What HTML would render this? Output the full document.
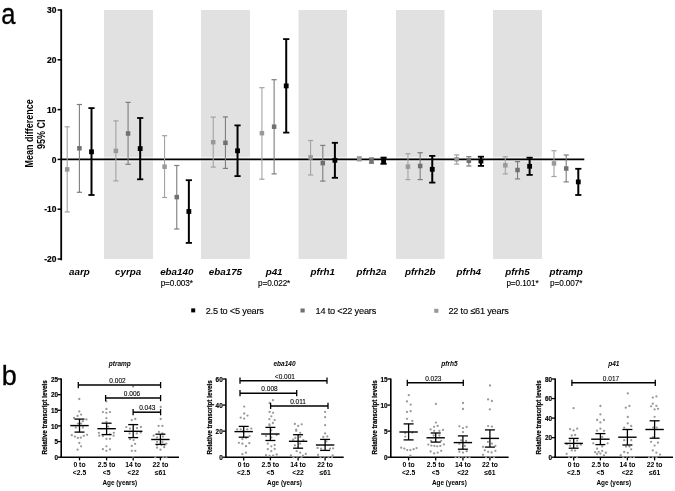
<!DOCTYPE html>
<html><head><meta charset="utf-8"><style>
html,body{margin:0;padding:0;background:#fff;width:675px;height:491px;overflow:hidden}
svg{display:block;will-change:transform}
</style></head><body>
<svg width="675" height="491" viewBox="0 0 675 491">
<rect width="675" height="491" fill="#fff"/>
<rect x="104" y="10" width="49" height="249" fill="#e1e1e1"/>
<rect x="104" y="156.9" width="49" height="0.9" fill="#f6f6f6"/>
<rect x="104" y="160.4" width="49" height="1" fill="#f8f8f8"/>
<rect x="201" y="10" width="49" height="249" fill="#e1e1e1"/>
<rect x="201" y="156.9" width="49" height="0.9" fill="#f6f6f6"/>
<rect x="201" y="160.4" width="49" height="1" fill="#f8f8f8"/>
<rect x="298.5" y="10" width="48.5" height="249" fill="#e1e1e1"/>
<rect x="298.5" y="156.9" width="48.5" height="0.9" fill="#f6f6f6"/>
<rect x="298.5" y="160.4" width="48.5" height="1" fill="#f8f8f8"/>
<rect x="396" y="10" width="48.5" height="249" fill="#e1e1e1"/>
<rect x="396" y="156.9" width="48.5" height="0.9" fill="#f6f6f6"/>
<rect x="396" y="160.4" width="48.5" height="1" fill="#f8f8f8"/>
<rect x="493" y="10" width="49" height="249" fill="#e1e1e1"/>
<rect x="493" y="156.9" width="49" height="0.9" fill="#f6f6f6"/>
<rect x="493" y="160.4" width="49" height="1" fill="#f8f8f8"/>
<line x1="61.2" y1="9.3" x2="61.2" y2="260.3" stroke="#000" stroke-width="1.8"/>
<line x1="57.6" y1="10.00" x2="61.2" y2="10.00" stroke="#000" stroke-width="1.5"/>
<text transform="translate(56.4,13.20) scale(0.88,1)" font-family="Liberation Sans, sans-serif" font-weight="bold" font-size="9.6" text-anchor="end" stroke="#000" stroke-width="0.2">30</text>
<line x1="57.6" y1="59.80" x2="61.2" y2="59.80" stroke="#000" stroke-width="1.5"/>
<text transform="translate(56.4,63.00) scale(0.88,1)" font-family="Liberation Sans, sans-serif" font-weight="bold" font-size="9.6" text-anchor="end" stroke="#000" stroke-width="0.2">20</text>
<line x1="57.6" y1="109.60" x2="61.2" y2="109.60" stroke="#000" stroke-width="1.5"/>
<text transform="translate(56.4,112.80) scale(0.88,1)" font-family="Liberation Sans, sans-serif" font-weight="bold" font-size="9.6" text-anchor="end" stroke="#000" stroke-width="0.2">10</text>
<line x1="57.6" y1="159.40" x2="61.2" y2="159.40" stroke="#000" stroke-width="1.5"/>
<text transform="translate(56.4,162.60) scale(0.88,1)" font-family="Liberation Sans, sans-serif" font-weight="bold" font-size="9.6" text-anchor="end" stroke="#000" stroke-width="0.2">0</text>
<line x1="57.6" y1="209.20" x2="61.2" y2="209.20" stroke="#000" stroke-width="1.5"/>
<text transform="translate(56.4,212.40) scale(0.88,1)" font-family="Liberation Sans, sans-serif" font-weight="bold" font-size="9.6" text-anchor="end" stroke="#000" stroke-width="0.2">-10</text>
<line x1="57.6" y1="259.00" x2="61.2" y2="259.00" stroke="#000" stroke-width="1.5"/>
<text transform="translate(56.4,262.20) scale(0.88,1)" font-family="Liberation Sans, sans-serif" font-weight="bold" font-size="9.6" text-anchor="end" stroke="#000" stroke-width="0.2">-20</text>
<line x1="61" y1="159.3" x2="584.3" y2="159.3" stroke="#000" stroke-width="1.8"/>
<text transform="translate(33.4,133.4) rotate(-90) scale(0.855,1)" font-family="Liberation Sans, sans-serif" font-weight="bold" font-size="10.5" text-anchor="middle">Mean difference</text>
<text transform="translate(44.6,134.2) rotate(-90) scale(0.9,1)" font-family="Liberation Sans, sans-serif" font-weight="bold" font-size="10" text-anchor="middle">95% CI</text>
<line x1="67.20" y1="126.8" x2="67.20" y2="211.9" stroke="#a3a3a3" stroke-width="1.1"/>
<line x1="64.60" y1="126.8" x2="69.80" y2="126.8" stroke="#a3a3a3" stroke-width="1.2"/>
<line x1="64.60" y1="211.9" x2="69.80" y2="211.9" stroke="#a3a3a3" stroke-width="1.2"/>
<rect x="64.95" y="167.15" width="4.5" height="4.5" fill="#999999"/>
<line x1="79.40" y1="104.5" x2="79.40" y2="192.3" stroke="#7d7d7d" stroke-width="1.1"/>
<line x1="76.80" y1="104.5" x2="82.00" y2="104.5" stroke="#7d7d7d" stroke-width="1.2"/>
<line x1="76.80" y1="192.3" x2="82.00" y2="192.3" stroke="#7d7d7d" stroke-width="1.2"/>
<rect x="77.15" y="146.05" width="4.5" height="4.5" fill="#707070"/>
<line x1="91.50" y1="108.1" x2="91.50" y2="195" stroke="#000000" stroke-width="2.0"/>
<line x1="88.40" y1="108.1" x2="94.60" y2="108.1" stroke="#000000" stroke-width="1.8"/>
<line x1="88.40" y1="195" x2="94.60" y2="195" stroke="#000000" stroke-width="1.8"/>
<rect x="89.10" y="149.40" width="4.8" height="4.8" fill="#000000"/>
<text x="79.40" y="275" font-family="Liberation Sans, sans-serif" font-weight="bold" font-style="italic" font-size="9.8" text-anchor="middle">aarp</text>
<line x1="115.88" y1="120.9" x2="115.88" y2="180.9" stroke="#a3a3a3" stroke-width="1.1"/>
<line x1="113.28" y1="120.9" x2="118.48" y2="120.9" stroke="#a3a3a3" stroke-width="1.2"/>
<line x1="113.28" y1="180.9" x2="118.48" y2="180.9" stroke="#a3a3a3" stroke-width="1.2"/>
<rect x="113.63" y="148.65" width="4.5" height="4.5" fill="#999999"/>
<line x1="128.08" y1="102.4" x2="128.08" y2="164.3" stroke="#7d7d7d" stroke-width="1.1"/>
<line x1="125.48" y1="102.4" x2="130.68" y2="102.4" stroke="#7d7d7d" stroke-width="1.2"/>
<line x1="125.48" y1="164.3" x2="130.68" y2="164.3" stroke="#7d7d7d" stroke-width="1.2"/>
<rect x="125.83" y="131.25" width="4.5" height="4.5" fill="#707070"/>
<line x1="140.18" y1="118" x2="140.18" y2="179.3" stroke="#000000" stroke-width="2.0"/>
<line x1="137.08" y1="118" x2="143.28" y2="118" stroke="#000000" stroke-width="1.8"/>
<line x1="137.08" y1="179.3" x2="143.28" y2="179.3" stroke="#000000" stroke-width="1.8"/>
<rect x="137.78" y="146.20" width="4.8" height="4.8" fill="#000000"/>
<text x="128.08" y="275" font-family="Liberation Sans, sans-serif" font-weight="bold" font-style="italic" font-size="9.8" text-anchor="middle">cyrpa</text>
<line x1="164.56" y1="135.7" x2="164.56" y2="197.5" stroke="#a3a3a3" stroke-width="1.1"/>
<line x1="161.96" y1="135.7" x2="167.16" y2="135.7" stroke="#a3a3a3" stroke-width="1.2"/>
<line x1="161.96" y1="197.5" x2="167.16" y2="197.5" stroke="#a3a3a3" stroke-width="1.2"/>
<rect x="162.31" y="164.45" width="4.5" height="4.5" fill="#999999"/>
<line x1="176.76" y1="165.5" x2="176.76" y2="229" stroke="#7d7d7d" stroke-width="1.1"/>
<line x1="174.16" y1="165.5" x2="179.36" y2="165.5" stroke="#7d7d7d" stroke-width="1.2"/>
<line x1="174.16" y1="229" x2="179.36" y2="229" stroke="#7d7d7d" stroke-width="1.2"/>
<rect x="174.51" y="194.85" width="4.5" height="4.5" fill="#707070"/>
<line x1="188.86" y1="180.2" x2="188.86" y2="242.9" stroke="#000000" stroke-width="2.0"/>
<line x1="185.76" y1="180.2" x2="191.96" y2="180.2" stroke="#000000" stroke-width="1.8"/>
<line x1="185.76" y1="242.9" x2="191.96" y2="242.9" stroke="#000000" stroke-width="1.8"/>
<rect x="186.46" y="209.10" width="4.8" height="4.8" fill="#000000"/>
<text x="176.76" y="275" font-family="Liberation Sans, sans-serif" font-weight="bold" font-style="italic" font-size="9.8" text-anchor="middle">eba140</text>
<text x="176.76" y="286.1" font-family="Liberation Sans, sans-serif" font-size="8.2" letter-spacing="-0.1" text-anchor="middle" fill="#000" stroke="#000" stroke-width="0.12">p=0.003*</text>
<line x1="213.24" y1="117.1" x2="213.24" y2="167.1" stroke="#a3a3a3" stroke-width="1.1"/>
<line x1="210.64" y1="117.1" x2="215.84" y2="117.1" stroke="#a3a3a3" stroke-width="1.2"/>
<line x1="210.64" y1="167.1" x2="215.84" y2="167.1" stroke="#a3a3a3" stroke-width="1.2"/>
<rect x="210.99" y="139.95" width="4.5" height="4.5" fill="#999999"/>
<line x1="225.44" y1="116.9" x2="225.44" y2="168.4" stroke="#7d7d7d" stroke-width="1.1"/>
<line x1="222.84" y1="116.9" x2="228.04" y2="116.9" stroke="#7d7d7d" stroke-width="1.2"/>
<line x1="222.84" y1="168.4" x2="228.04" y2="168.4" stroke="#7d7d7d" stroke-width="1.2"/>
<rect x="223.19" y="140.55" width="4.5" height="4.5" fill="#707070"/>
<line x1="237.54" y1="125.4" x2="237.54" y2="176.1" stroke="#000000" stroke-width="2.0"/>
<line x1="234.44" y1="125.4" x2="240.64" y2="125.4" stroke="#000000" stroke-width="1.8"/>
<line x1="234.44" y1="176.1" x2="240.64" y2="176.1" stroke="#000000" stroke-width="1.8"/>
<rect x="235.14" y="148.40" width="4.8" height="4.8" fill="#000000"/>
<text x="225.44" y="275" font-family="Liberation Sans, sans-serif" font-weight="bold" font-style="italic" font-size="9.8" text-anchor="middle">eba175</text>
<line x1="261.92" y1="87.7" x2="261.92" y2="179.2" stroke="#a3a3a3" stroke-width="1.1"/>
<line x1="259.32" y1="87.7" x2="264.52" y2="87.7" stroke="#a3a3a3" stroke-width="1.2"/>
<line x1="259.32" y1="179.2" x2="264.52" y2="179.2" stroke="#a3a3a3" stroke-width="1.2"/>
<rect x="259.67" y="130.95" width="4.5" height="4.5" fill="#999999"/>
<line x1="274.12" y1="79.7" x2="274.12" y2="173.9" stroke="#7d7d7d" stroke-width="1.1"/>
<line x1="271.52" y1="79.7" x2="276.72" y2="79.7" stroke="#7d7d7d" stroke-width="1.2"/>
<line x1="271.52" y1="173.9" x2="276.72" y2="173.9" stroke="#7d7d7d" stroke-width="1.2"/>
<rect x="271.87" y="124.45" width="4.5" height="4.5" fill="#707070"/>
<line x1="286.22" y1="39.1" x2="286.22" y2="132.6" stroke="#000000" stroke-width="2.0"/>
<line x1="283.12" y1="39.1" x2="289.32" y2="39.1" stroke="#000000" stroke-width="1.8"/>
<line x1="283.12" y1="132.6" x2="289.32" y2="132.6" stroke="#000000" stroke-width="1.8"/>
<rect x="283.82" y="83.50" width="4.8" height="4.8" fill="#000000"/>
<text x="274.12" y="275" font-family="Liberation Sans, sans-serif" font-weight="bold" font-style="italic" font-size="9.8" text-anchor="middle">p41</text>
<text x="274.12" y="286.1" font-family="Liberation Sans, sans-serif" font-size="8.2" letter-spacing="-0.1" text-anchor="middle" fill="#000" stroke="#000" stroke-width="0.12">p=0.022*</text>
<line x1="310.60" y1="140.5" x2="310.60" y2="175" stroke="#a3a3a3" stroke-width="1.1"/>
<line x1="308.00" y1="140.5" x2="313.20" y2="140.5" stroke="#a3a3a3" stroke-width="1.2"/>
<line x1="308.00" y1="175" x2="313.20" y2="175" stroke="#a3a3a3" stroke-width="1.2"/>
<rect x="308.35" y="155.15" width="4.5" height="4.5" fill="#999999"/>
<line x1="322.80" y1="145.4" x2="322.80" y2="181.1" stroke="#7d7d7d" stroke-width="1.1"/>
<line x1="320.20" y1="145.4" x2="325.40" y2="145.4" stroke="#7d7d7d" stroke-width="1.2"/>
<line x1="320.20" y1="181.1" x2="325.40" y2="181.1" stroke="#7d7d7d" stroke-width="1.2"/>
<rect x="320.55" y="160.85" width="4.5" height="4.5" fill="#707070"/>
<line x1="334.90" y1="142.8" x2="334.90" y2="177.8" stroke="#000000" stroke-width="2.0"/>
<line x1="331.80" y1="142.8" x2="338.00" y2="142.8" stroke="#000000" stroke-width="1.8"/>
<line x1="331.80" y1="177.8" x2="338.00" y2="177.8" stroke="#000000" stroke-width="1.8"/>
<rect x="332.50" y="157.90" width="4.8" height="4.8" fill="#000000"/>
<text x="322.80" y="275" font-family="Liberation Sans, sans-serif" font-weight="bold" font-style="italic" font-size="9.8" text-anchor="middle">pfrh1</text>
<line x1="359.28" y1="156.8" x2="359.28" y2="160.8" stroke="#a3a3a3" stroke-width="1.1"/>
<line x1="356.68" y1="156.8" x2="361.88" y2="156.8" stroke="#a3a3a3" stroke-width="1.2"/>
<line x1="356.68" y1="160.8" x2="361.88" y2="160.8" stroke="#a3a3a3" stroke-width="1.2"/>
<rect x="357.03" y="156.65" width="4.5" height="4.5" fill="#999999"/>
<line x1="371.48" y1="157.9" x2="371.48" y2="163.3" stroke="#7d7d7d" stroke-width="1.1"/>
<line x1="368.88" y1="157.9" x2="374.08" y2="157.9" stroke="#7d7d7d" stroke-width="1.2"/>
<line x1="368.88" y1="163.3" x2="374.08" y2="163.3" stroke="#7d7d7d" stroke-width="1.2"/>
<rect x="369.23" y="158.55" width="4.5" height="4.5" fill="#707070"/>
<line x1="383.58" y1="157.6" x2="383.58" y2="163.8" stroke="#000000" stroke-width="2.0"/>
<line x1="380.48" y1="157.6" x2="386.68" y2="157.6" stroke="#000000" stroke-width="1.8"/>
<line x1="380.48" y1="163.8" x2="386.68" y2="163.8" stroke="#000000" stroke-width="1.8"/>
<rect x="381.18" y="158.30" width="4.8" height="4.8" fill="#000000"/>
<text x="371.48" y="275" font-family="Liberation Sans, sans-serif" font-weight="bold" font-style="italic" font-size="9.8" text-anchor="middle">pfrh2a</text>
<line x1="407.96" y1="153.7" x2="407.96" y2="179.6" stroke="#a3a3a3" stroke-width="1.1"/>
<line x1="405.36" y1="153.7" x2="410.56" y2="153.7" stroke="#a3a3a3" stroke-width="1.2"/>
<line x1="405.36" y1="179.6" x2="410.56" y2="179.6" stroke="#a3a3a3" stroke-width="1.2"/>
<rect x="405.71" y="164.35" width="4.5" height="4.5" fill="#999999"/>
<line x1="420.16" y1="152.7" x2="420.16" y2="179.6" stroke="#7d7d7d" stroke-width="1.1"/>
<line x1="417.56" y1="152.7" x2="422.76" y2="152.7" stroke="#7d7d7d" stroke-width="1.2"/>
<line x1="417.56" y1="179.6" x2="422.76" y2="179.6" stroke="#7d7d7d" stroke-width="1.2"/>
<rect x="417.91" y="163.75" width="4.5" height="4.5" fill="#707070"/>
<line x1="432.26" y1="155.9" x2="432.26" y2="182.6" stroke="#000000" stroke-width="2.0"/>
<line x1="429.16" y1="155.9" x2="435.36" y2="155.9" stroke="#000000" stroke-width="1.8"/>
<line x1="429.16" y1="182.6" x2="435.36" y2="182.6" stroke="#000000" stroke-width="1.8"/>
<rect x="429.86" y="166.90" width="4.8" height="4.8" fill="#000000"/>
<text x="420.16" y="275" font-family="Liberation Sans, sans-serif" font-weight="bold" font-style="italic" font-size="9.8" text-anchor="middle">pfrh2b</text>
<line x1="456.64" y1="154.9" x2="456.64" y2="164.1" stroke="#a3a3a3" stroke-width="1.1"/>
<line x1="454.04" y1="154.9" x2="459.24" y2="154.9" stroke="#a3a3a3" stroke-width="1.2"/>
<line x1="454.04" y1="164.1" x2="459.24" y2="164.1" stroke="#a3a3a3" stroke-width="1.2"/>
<rect x="454.39" y="157.05" width="4.5" height="4.5" fill="#999999"/>
<line x1="468.84" y1="156.7" x2="468.84" y2="166" stroke="#7d7d7d" stroke-width="1.1"/>
<line x1="466.24" y1="156.7" x2="471.44" y2="156.7" stroke="#7d7d7d" stroke-width="1.2"/>
<line x1="466.24" y1="166" x2="471.44" y2="166" stroke="#7d7d7d" stroke-width="1.2"/>
<rect x="466.59" y="158.55" width="4.5" height="4.5" fill="#707070"/>
<line x1="480.94" y1="156.7" x2="480.94" y2="165.9" stroke="#000000" stroke-width="2.0"/>
<line x1="477.84" y1="156.7" x2="484.04" y2="156.7" stroke="#000000" stroke-width="1.8"/>
<line x1="477.84" y1="165.9" x2="484.04" y2="165.9" stroke="#000000" stroke-width="1.8"/>
<rect x="478.54" y="158.70" width="4.8" height="4.8" fill="#000000"/>
<text x="468.84" y="275" font-family="Liberation Sans, sans-serif" font-weight="bold" font-style="italic" font-size="9.8" text-anchor="middle">pfrh4</text>
<line x1="505.32" y1="156.8" x2="505.32" y2="173.9" stroke="#a3a3a3" stroke-width="1.1"/>
<line x1="502.72" y1="156.8" x2="507.92" y2="156.8" stroke="#a3a3a3" stroke-width="1.2"/>
<line x1="502.72" y1="173.9" x2="507.92" y2="173.9" stroke="#a3a3a3" stroke-width="1.2"/>
<rect x="503.07" y="163.05" width="4.5" height="4.5" fill="#999999"/>
<line x1="517.52" y1="161.6" x2="517.52" y2="178.9" stroke="#7d7d7d" stroke-width="1.1"/>
<line x1="514.92" y1="161.6" x2="520.12" y2="161.6" stroke="#7d7d7d" stroke-width="1.2"/>
<line x1="514.92" y1="178.9" x2="520.12" y2="178.9" stroke="#7d7d7d" stroke-width="1.2"/>
<rect x="515.27" y="167.75" width="4.5" height="4.5" fill="#707070"/>
<line x1="529.62" y1="157.7" x2="529.62" y2="174.9" stroke="#000000" stroke-width="2.0"/>
<line x1="526.52" y1="157.7" x2="532.72" y2="157.7" stroke="#000000" stroke-width="1.8"/>
<line x1="526.52" y1="174.9" x2="532.72" y2="174.9" stroke="#000000" stroke-width="1.8"/>
<rect x="527.22" y="163.90" width="4.8" height="4.8" fill="#000000"/>
<text x="517.52" y="275" font-family="Liberation Sans, sans-serif" font-weight="bold" font-style="italic" font-size="9.8" text-anchor="middle">pfrh5</text>
<text x="522.52" y="286.1" font-family="Liberation Sans, sans-serif" font-size="8.2" letter-spacing="-0.1" text-anchor="middle" fill="#000" stroke="#000" stroke-width="0.12">p=0.101*</text>
<line x1="554.00" y1="150.7" x2="554.00" y2="176.5" stroke="#a3a3a3" stroke-width="1.1"/>
<line x1="551.40" y1="150.7" x2="556.60" y2="150.7" stroke="#a3a3a3" stroke-width="1.2"/>
<line x1="551.40" y1="176.5" x2="556.60" y2="176.5" stroke="#a3a3a3" stroke-width="1.2"/>
<rect x="551.75" y="161.15" width="4.5" height="4.5" fill="#999999"/>
<line x1="566.20" y1="155" x2="566.20" y2="181.9" stroke="#7d7d7d" stroke-width="1.1"/>
<line x1="563.60" y1="155" x2="568.80" y2="155" stroke="#7d7d7d" stroke-width="1.2"/>
<line x1="563.60" y1="181.9" x2="568.80" y2="181.9" stroke="#7d7d7d" stroke-width="1.2"/>
<rect x="563.95" y="166.25" width="4.5" height="4.5" fill="#707070"/>
<line x1="578.30" y1="168.8" x2="578.30" y2="195" stroke="#000000" stroke-width="2.0"/>
<line x1="575.20" y1="168.8" x2="581.40" y2="168.8" stroke="#000000" stroke-width="1.8"/>
<line x1="575.20" y1="195" x2="581.40" y2="195" stroke="#000000" stroke-width="1.8"/>
<rect x="575.90" y="179.50" width="4.8" height="4.8" fill="#000000"/>
<text x="566.20" y="275" font-family="Liberation Sans, sans-serif" font-weight="bold" font-style="italic" font-size="9.8" text-anchor="middle">ptramp</text>
<text x="566.20" y="286.1" font-family="Liberation Sans, sans-serif" font-size="8.2" letter-spacing="-0.1" text-anchor="middle" fill="#000" stroke="#000" stroke-width="0.12">p=0.007*</text>
<rect x="191.2" y="308.4" width="4" height="4" fill="#000"/>
<text x="205.7" y="313.6" font-family="Liberation Sans, sans-serif" font-size="9.2" letter-spacing="-0.2" fill="#000" stroke="#000" stroke-width="0.12">2.5 to &lt;5 years</text>
<rect x="300.5" y="308.5" width="4.2" height="4" fill="#707070"/>
<text x="315.5" y="313.6" font-family="Liberation Sans, sans-serif" font-size="9.2" letter-spacing="-0.2" fill="#000" stroke="#000" stroke-width="0.12">14 to &lt;22 years</text>
<rect x="434.2" y="308.8" width="4.2" height="4" fill="#999999"/>
<text x="448.4" y="313.6" font-family="Liberation Sans, sans-serif" font-size="9.2" letter-spacing="-0.2" fill="#000" stroke="#000" stroke-width="0.12">22 to ≤61 years</text>
<text transform="translate(1.36,23.6) scale(0.88,1)" font-family="Liberation Sans, sans-serif" font-size="29" stroke="#000" stroke-width="0.35">a</text>
<text x="1.76" y="385" font-family="Liberation Sans, sans-serif" font-size="27" stroke="#000" stroke-width="0.3">b</text>
<line x1="61.2" y1="378.5" x2="61.2" y2="458.0" stroke="#000" stroke-width="1.6"/>
<line x1="60.400000000000006" y1="457.2" x2="179.0" y2="457.2" stroke="#000" stroke-width="1.6"/>
<line x1="57.800000000000004" y1="457.20" x2="61.2" y2="457.20" stroke="#000" stroke-width="1.3"/>
<text x="58.0" y="459.80" font-family="Liberation Sans, sans-serif" font-weight="bold" font-size="6.4" text-anchor="end" stroke="#000" stroke-width="0.15">0</text>
<line x1="57.800000000000004" y1="441.56" x2="61.2" y2="441.56" stroke="#000" stroke-width="1.3"/>
<text x="58.0" y="444.16" font-family="Liberation Sans, sans-serif" font-weight="bold" font-size="6.4" text-anchor="end" stroke="#000" stroke-width="0.15">5</text>
<line x1="57.800000000000004" y1="425.92" x2="61.2" y2="425.92" stroke="#000" stroke-width="1.3"/>
<text x="58.0" y="428.52" font-family="Liberation Sans, sans-serif" font-weight="bold" font-size="6.4" text-anchor="end" stroke="#000" stroke-width="0.15">10</text>
<line x1="57.800000000000004" y1="410.28" x2="61.2" y2="410.28" stroke="#000" stroke-width="1.3"/>
<text x="58.0" y="412.88" font-family="Liberation Sans, sans-serif" font-weight="bold" font-size="6.4" text-anchor="end" stroke="#000" stroke-width="0.15">15</text>
<line x1="57.800000000000004" y1="394.64" x2="61.2" y2="394.64" stroke="#000" stroke-width="1.3"/>
<text x="58.0" y="397.24" font-family="Liberation Sans, sans-serif" font-weight="bold" font-size="6.4" text-anchor="end" stroke="#000" stroke-width="0.15">20</text>
<line x1="57.800000000000004" y1="379.00" x2="61.2" y2="379.00" stroke="#000" stroke-width="1.3"/>
<text x="58.0" y="381.60" font-family="Liberation Sans, sans-serif" font-weight="bold" font-size="6.4" text-anchor="end" stroke="#000" stroke-width="0.15">25</text>
<text transform="translate(47.400000000000006,417.4) rotate(-90)" font-family="Liberation Sans, sans-serif" font-weight="bold" font-size="6.3" text-anchor="middle" stroke="#000" stroke-width="0.22">Relative transcript levels</text>
<text x="119.80000000000001" y="366.4" font-family="Liberation Sans, sans-serif" font-weight="bold" font-style="italic" font-size="6.5" text-anchor="middle">ptramp</text>
<circle cx="79.3" cy="399" r="1.15" fill="#9a9a9a"/>
<circle cx="79.3" cy="411.4" r="1.15" fill="#9a9a9a"/>
<circle cx="81.1" cy="414.6" r="1.15" fill="#9a9a9a"/>
<circle cx="77.6" cy="415.9" r="1.15" fill="#9a9a9a"/>
<circle cx="74" cy="417.9" r="1.15" fill="#9a9a9a"/>
<circle cx="86.4" cy="419.4" r="1.15" fill="#9a9a9a"/>
<circle cx="82.9" cy="421.2" r="1.15" fill="#9a9a9a"/>
<circle cx="78" cy="423.6" r="1.15" fill="#9a9a9a"/>
<circle cx="81.1" cy="423.6" r="1.15" fill="#9a9a9a"/>
<circle cx="75.8" cy="427.5" r="1.15" fill="#9a9a9a"/>
<circle cx="82.9" cy="427.5" r="1.15" fill="#9a9a9a"/>
<circle cx="71.8" cy="435.2" r="1.15" fill="#9a9a9a"/>
<circle cx="74.9" cy="436.6" r="1.15" fill="#9a9a9a"/>
<circle cx="77.8" cy="437.9" r="1.15" fill="#9a9a9a"/>
<circle cx="80.8" cy="437.7" r="1.15" fill="#9a9a9a"/>
<circle cx="83.8" cy="435.8" r="1.15" fill="#9a9a9a"/>
<circle cx="87.1" cy="434.8" r="1.15" fill="#9a9a9a"/>
<circle cx="79.3" cy="443" r="1.15" fill="#9a9a9a"/>
<circle cx="81.1" cy="446.3" r="1.15" fill="#9a9a9a"/>
<circle cx="77.6" cy="449.7" r="1.15" fill="#9a9a9a"/>
<circle cx="106.3" cy="401.4" r="1.15" fill="#9a9a9a"/>
<circle cx="106.4" cy="409" r="1.15" fill="#9a9a9a"/>
<circle cx="102.9" cy="412.1" r="1.15" fill="#9a9a9a"/>
<circle cx="106.4" cy="412.8" r="1.15" fill="#9a9a9a"/>
<circle cx="110" cy="412.1" r="1.15" fill="#9a9a9a"/>
<circle cx="106.4" cy="418.1" r="1.15" fill="#9a9a9a"/>
<circle cx="106.4" cy="421.8" r="1.15" fill="#9a9a9a"/>
<circle cx="108.2" cy="426.6" r="1.15" fill="#9a9a9a"/>
<circle cx="98.9" cy="432.8" r="1.15" fill="#9a9a9a"/>
<circle cx="113.8" cy="432.8" r="1.15" fill="#9a9a9a"/>
<circle cx="99.3" cy="435.7" r="1.15" fill="#9a9a9a"/>
<circle cx="102.9" cy="436.1" r="1.15" fill="#9a9a9a"/>
<circle cx="110" cy="434.3" r="1.15" fill="#9a9a9a"/>
<circle cx="113.6" cy="435.7" r="1.15" fill="#9a9a9a"/>
<circle cx="106.4" cy="438.8" r="1.15" fill="#9a9a9a"/>
<circle cx="110" cy="438.8" r="1.15" fill="#9a9a9a"/>
<circle cx="106.4" cy="446.3" r="1.15" fill="#9a9a9a"/>
<circle cx="102.9" cy="449.2" r="1.15" fill="#9a9a9a"/>
<circle cx="106.4" cy="450.8" r="1.15" fill="#9a9a9a"/>
<circle cx="110" cy="449.4" r="1.15" fill="#9a9a9a"/>
<circle cx="133.1" cy="386.5" r="1.15" fill="#9a9a9a"/>
<circle cx="131.8" cy="420.1" r="1.15" fill="#9a9a9a"/>
<circle cx="135.3" cy="419" r="1.15" fill="#9a9a9a"/>
<circle cx="126.3" cy="427.1" r="1.15" fill="#9a9a9a"/>
<circle cx="130" cy="428.6" r="1.15" fill="#9a9a9a"/>
<circle cx="137" cy="428.1" r="1.15" fill="#9a9a9a"/>
<circle cx="140.9" cy="427" r="1.15" fill="#9a9a9a"/>
<circle cx="129.6" cy="433.4" r="1.15" fill="#9a9a9a"/>
<circle cx="136.8" cy="433.4" r="1.15" fill="#9a9a9a"/>
<circle cx="140.7" cy="432.6" r="1.15" fill="#9a9a9a"/>
<circle cx="130" cy="439.2" r="1.15" fill="#9a9a9a"/>
<circle cx="133.6" cy="440.1" r="1.15" fill="#9a9a9a"/>
<circle cx="135.1" cy="443.8" r="1.15" fill="#9a9a9a"/>
<circle cx="131.8" cy="445.9" r="1.15" fill="#9a9a9a"/>
<circle cx="131.8" cy="450.8" r="1.15" fill="#9a9a9a"/>
<circle cx="135.3" cy="450.8" r="1.15" fill="#9a9a9a"/>
<circle cx="133.1" cy="457.2" r="1.15" fill="#9a9a9a"/>
<circle cx="160.7" cy="407" r="1.15" fill="#9a9a9a"/>
<circle cx="160.7" cy="419" r="1.15" fill="#9a9a9a"/>
<circle cx="158.6" cy="425.9" r="1.15" fill="#9a9a9a"/>
<circle cx="162.4" cy="425.9" r="1.15" fill="#9a9a9a"/>
<circle cx="158.9" cy="431.9" r="1.15" fill="#9a9a9a"/>
<circle cx="162.4" cy="433.4" r="1.15" fill="#9a9a9a"/>
<circle cx="153.6" cy="435.7" r="1.15" fill="#9a9a9a"/>
<circle cx="157.1" cy="437.4" r="1.15" fill="#9a9a9a"/>
<circle cx="162.9" cy="436.6" r="1.15" fill="#9a9a9a"/>
<circle cx="157.1" cy="441.9" r="1.15" fill="#9a9a9a"/>
<circle cx="162.4" cy="441.9" r="1.15" fill="#9a9a9a"/>
<circle cx="166.4" cy="443.7" r="1.15" fill="#9a9a9a"/>
<circle cx="157.1" cy="445" r="1.15" fill="#9a9a9a"/>
<circle cx="161.6" cy="445" r="1.15" fill="#9a9a9a"/>
<circle cx="164.7" cy="445" r="1.15" fill="#9a9a9a"/>
<circle cx="157.1" cy="447.7" r="1.15" fill="#9a9a9a"/>
<circle cx="164.2" cy="447.2" r="1.15" fill="#9a9a9a"/>
<circle cx="160.5" cy="449.7" r="1.15" fill="#9a9a9a"/>
<circle cx="155.3" cy="457.2" r="1.15" fill="#9a9a9a"/>
<circle cx="163.3" cy="457.2" r="1.15" fill="#9a9a9a"/>
<circle cx="166.4" cy="457.2" r="1.15" fill="#9a9a9a"/>
<line x1="79.5" y1="457.2" x2="79.5" y2="460.4" stroke="#000" stroke-width="1.3"/>
<text x="79.5" y="467.4" font-family="Liberation Sans, sans-serif" font-weight="bold" font-size="6.8" text-anchor="middle">0 to</text>
<text x="79.5" y="475" font-family="Liberation Sans, sans-serif" font-weight="bold" font-size="6.8" text-anchor="middle">&lt;2.5</text>
<line x1="70.3" y1="425.6" x2="88.7" y2="425.6" stroke="#000" stroke-width="1.4"/>
<line x1="79.5" y1="419.1" x2="79.5" y2="432.1" stroke="#000" stroke-width="1.3"/>
<line x1="74.5" y1="419.1" x2="84.5" y2="419.1" stroke="#000" stroke-width="1.3"/>
<line x1="74.5" y1="432.1" x2="84.5" y2="432.1" stroke="#000" stroke-width="1.3"/>
<line x1="106.6" y1="457.2" x2="106.6" y2="460.4" stroke="#000" stroke-width="1.3"/>
<text x="106.6" y="467.4" font-family="Liberation Sans, sans-serif" font-weight="bold" font-size="6.8" text-anchor="middle">2.5 to</text>
<text x="106.6" y="475" font-family="Liberation Sans, sans-serif" font-weight="bold" font-size="6.8" text-anchor="middle">&lt;5</text>
<line x1="97.39999999999999" y1="428.7" x2="115.8" y2="428.7" stroke="#000" stroke-width="1.4"/>
<line x1="106.6" y1="423.2" x2="106.6" y2="434.6" stroke="#000" stroke-width="1.3"/>
<line x1="101.6" y1="423.2" x2="111.6" y2="423.2" stroke="#000" stroke-width="1.3"/>
<line x1="101.6" y1="434.6" x2="111.6" y2="434.6" stroke="#000" stroke-width="1.3"/>
<line x1="133.2" y1="457.2" x2="133.2" y2="460.4" stroke="#000" stroke-width="1.3"/>
<text x="133.2" y="467.4" font-family="Liberation Sans, sans-serif" font-weight="bold" font-size="6.8" text-anchor="middle">14 to</text>
<text x="133.2" y="475" font-family="Liberation Sans, sans-serif" font-weight="bold" font-size="6.8" text-anchor="middle">&lt;22</text>
<line x1="123.99999999999999" y1="431.3" x2="142.39999999999998" y2="431.3" stroke="#000" stroke-width="1.4"/>
<line x1="133.2" y1="424.6" x2="133.2" y2="437.6" stroke="#000" stroke-width="1.3"/>
<line x1="128.2" y1="424.6" x2="138.2" y2="424.6" stroke="#000" stroke-width="1.3"/>
<line x1="128.2" y1="437.6" x2="138.2" y2="437.6" stroke="#000" stroke-width="1.3"/>
<line x1="160.4" y1="457.2" x2="160.4" y2="460.4" stroke="#000" stroke-width="1.3"/>
<text x="160.4" y="467.4" font-family="Liberation Sans, sans-serif" font-weight="bold" font-size="6.8" text-anchor="middle">22 to</text>
<text x="160.4" y="475" font-family="Liberation Sans, sans-serif" font-weight="bold" font-size="6.8" text-anchor="middle">≤61</text>
<line x1="151.20000000000002" y1="439.5" x2="169.6" y2="439.5" stroke="#000" stroke-width="1.4"/>
<line x1="160.4" y1="434.2" x2="160.4" y2="444.4" stroke="#000" stroke-width="1.3"/>
<line x1="155.4" y1="434.2" x2="165.4" y2="434.2" stroke="#000" stroke-width="1.3"/>
<line x1="155.4" y1="444.4" x2="165.4" y2="444.4" stroke="#000" stroke-width="1.3"/>
<text x="119.80000000000001" y="485.4" font-family="Liberation Sans, sans-serif" font-weight="bold" font-size="6.4" text-anchor="middle">Age (years)</text>
<line x1="78.3" y1="385.1" x2="160.6" y2="385.1" stroke="#000" stroke-width="1.5"/>
<line x1="78.3" y1="382.0" x2="78.3" y2="388.20000000000005" stroke="#000" stroke-width="1.3"/>
<line x1="160.6" y1="382.0" x2="160.6" y2="388.20000000000005" stroke="#000" stroke-width="1.3"/>
<text x="117.5" y="383.1" font-family="Liberation Sans, sans-serif" font-size="6.5" text-anchor="middle" fill="#000" stroke="#000" stroke-width="0.1">0.002</text>
<line x1="105.6" y1="398.1" x2="160.6" y2="398.1" stroke="#000" stroke-width="1.5"/>
<line x1="105.6" y1="395.0" x2="105.6" y2="401.20000000000005" stroke="#000" stroke-width="1.3"/>
<line x1="160.6" y1="395.0" x2="160.6" y2="401.20000000000005" stroke="#000" stroke-width="1.3"/>
<text x="132" y="396.1" font-family="Liberation Sans, sans-serif" font-size="6.5" text-anchor="middle" fill="#000" stroke="#000" stroke-width="0.1">0.006</text>
<line x1="133.1" y1="412.2" x2="160.6" y2="412.2" stroke="#000" stroke-width="1.5"/>
<line x1="133.1" y1="409.09999999999997" x2="133.1" y2="415.3" stroke="#000" stroke-width="1.3"/>
<line x1="160.6" y1="409.09999999999997" x2="160.6" y2="415.3" stroke="#000" stroke-width="1.3"/>
<text x="147.3" y="410.2" font-family="Liberation Sans, sans-serif" font-size="6.5" text-anchor="middle" fill="#000" stroke="#000" stroke-width="0.1">0.043</text>
<line x1="225.9" y1="378.5" x2="225.9" y2="458.0" stroke="#000" stroke-width="1.6"/>
<line x1="225.1" y1="457.2" x2="343.7" y2="457.2" stroke="#000" stroke-width="1.6"/>
<line x1="222.5" y1="457.20" x2="225.9" y2="457.20" stroke="#000" stroke-width="1.3"/>
<text x="222.70000000000002" y="459.80" font-family="Liberation Sans, sans-serif" font-weight="bold" font-size="6.4" text-anchor="end" stroke="#000" stroke-width="0.15">0</text>
<line x1="222.5" y1="431.13" x2="225.9" y2="431.13" stroke="#000" stroke-width="1.3"/>
<text x="222.70000000000002" y="433.73" font-family="Liberation Sans, sans-serif" font-weight="bold" font-size="6.4" text-anchor="end" stroke="#000" stroke-width="0.15">20</text>
<line x1="222.5" y1="405.07" x2="225.9" y2="405.07" stroke="#000" stroke-width="1.3"/>
<text x="222.70000000000002" y="407.67" font-family="Liberation Sans, sans-serif" font-weight="bold" font-size="6.4" text-anchor="end" stroke="#000" stroke-width="0.15">40</text>
<line x1="222.5" y1="379.00" x2="225.9" y2="379.00" stroke="#000" stroke-width="1.3"/>
<text x="222.70000000000002" y="381.60" font-family="Liberation Sans, sans-serif" font-weight="bold" font-size="6.4" text-anchor="end" stroke="#000" stroke-width="0.15">60</text>
<text transform="translate(212.4,417.4) rotate(-90)" font-family="Liberation Sans, sans-serif" font-weight="bold" font-size="6.3" text-anchor="middle" stroke="#000" stroke-width="0.22">Relative transcript levels</text>
<text x="284.5" y="366.4" font-family="Liberation Sans, sans-serif" font-weight="bold" font-style="italic" font-size="6.5" text-anchor="middle">eba140</text>
<circle cx="244.2" cy="406.6" r="1.15" fill="#9a9a9a"/>
<circle cx="244.2" cy="413.5" r="1.15" fill="#9a9a9a"/>
<circle cx="247.5" cy="415.6" r="1.15" fill="#9a9a9a"/>
<circle cx="240.7" cy="417.7" r="1.15" fill="#9a9a9a"/>
<circle cx="244.2" cy="418.6" r="1.15" fill="#9a9a9a"/>
<circle cx="237.1" cy="429.3" r="1.15" fill="#9a9a9a"/>
<circle cx="240.7" cy="429.3" r="1.15" fill="#9a9a9a"/>
<circle cx="247.3" cy="429.3" r="1.15" fill="#9a9a9a"/>
<circle cx="251.3" cy="428.6" r="1.15" fill="#9a9a9a"/>
<circle cx="242.9" cy="431.4" r="1.15" fill="#9a9a9a"/>
<circle cx="249.6" cy="436.1" r="1.15" fill="#9a9a9a"/>
<circle cx="242.4" cy="439" r="1.15" fill="#9a9a9a"/>
<circle cx="246" cy="437.9" r="1.15" fill="#9a9a9a"/>
<circle cx="238.9" cy="442.8" r="1.15" fill="#9a9a9a"/>
<circle cx="242.4" cy="443.7" r="1.15" fill="#9a9a9a"/>
<circle cx="249.3" cy="443.2" r="1.15" fill="#9a9a9a"/>
<circle cx="246" cy="446.2" r="1.15" fill="#9a9a9a"/>
<circle cx="246" cy="452.7" r="1.15" fill="#9a9a9a"/>
<circle cx="242.4" cy="454.2" r="1.15" fill="#9a9a9a"/>
<circle cx="272.9" cy="400.2" r="1.15" fill="#9a9a9a"/>
<circle cx="269.6" cy="403" r="1.15" fill="#9a9a9a"/>
<circle cx="269.6" cy="411.9" r="1.15" fill="#9a9a9a"/>
<circle cx="273.1" cy="412.8" r="1.15" fill="#9a9a9a"/>
<circle cx="271.3" cy="416.3" r="1.15" fill="#9a9a9a"/>
<circle cx="269.4" cy="419.2" r="1.15" fill="#9a9a9a"/>
<circle cx="274.7" cy="420.1" r="1.15" fill="#9a9a9a"/>
<circle cx="269.4" cy="424.3" r="1.15" fill="#9a9a9a"/>
<circle cx="272.9" cy="423" r="1.15" fill="#9a9a9a"/>
<circle cx="269.6" cy="425.6" r="1.15" fill="#9a9a9a"/>
<circle cx="271.3" cy="430.3" r="1.15" fill="#9a9a9a"/>
<circle cx="266" cy="436.1" r="1.15" fill="#9a9a9a"/>
<circle cx="271.3" cy="437.4" r="1.15" fill="#9a9a9a"/>
<circle cx="276.7" cy="434.8" r="1.15" fill="#9a9a9a"/>
<circle cx="267.8" cy="443.7" r="1.15" fill="#9a9a9a"/>
<circle cx="271.3" cy="446.3" r="1.15" fill="#9a9a9a"/>
<circle cx="274.7" cy="445" r="1.15" fill="#9a9a9a"/>
<circle cx="267.8" cy="449.2" r="1.15" fill="#9a9a9a"/>
<circle cx="271.3" cy="451.2" r="1.15" fill="#9a9a9a"/>
<circle cx="274.7" cy="449" r="1.15" fill="#9a9a9a"/>
<circle cx="266" cy="455.2" r="1.15" fill="#9a9a9a"/>
<circle cx="269.6" cy="455.9" r="1.15" fill="#9a9a9a"/>
<circle cx="273.1" cy="455.7" r="1.15" fill="#9a9a9a"/>
<circle cx="276.7" cy="454.5" r="1.15" fill="#9a9a9a"/>
<circle cx="294.9" cy="423.9" r="1.15" fill="#9a9a9a"/>
<circle cx="298.2" cy="425.9" r="1.15" fill="#9a9a9a"/>
<circle cx="301.7" cy="424.3" r="1.15" fill="#9a9a9a"/>
<circle cx="296.2" cy="429.7" r="1.15" fill="#9a9a9a"/>
<circle cx="296.2" cy="430.8" r="1.15" fill="#9a9a9a"/>
<circle cx="300.2" cy="432.8" r="1.15" fill="#9a9a9a"/>
<circle cx="295.3" cy="437.9" r="1.15" fill="#9a9a9a"/>
<circle cx="300.2" cy="437" r="1.15" fill="#9a9a9a"/>
<circle cx="293.1" cy="439.7" r="1.15" fill="#9a9a9a"/>
<circle cx="303.3" cy="440.1" r="1.15" fill="#9a9a9a"/>
<circle cx="294.9" cy="445.4" r="1.15" fill="#9a9a9a"/>
<circle cx="300.2" cy="443.7" r="1.15" fill="#9a9a9a"/>
<circle cx="296.7" cy="451.2" r="1.15" fill="#9a9a9a"/>
<circle cx="300.2" cy="452.7" r="1.15" fill="#9a9a9a"/>
<circle cx="290.9" cy="455.4" r="1.15" fill="#9a9a9a"/>
<circle cx="302.9" cy="455.7" r="1.15" fill="#9a9a9a"/>
<circle cx="305.8" cy="453.9" r="1.15" fill="#9a9a9a"/>
<circle cx="293.5" cy="457.2" r="1.15" fill="#9a9a9a"/>
<circle cx="297.5" cy="457.2" r="1.15" fill="#9a9a9a"/>
<circle cx="301.5" cy="457.2" r="1.15" fill="#9a9a9a"/>
<circle cx="325.1" cy="411.9" r="1.15" fill="#9a9a9a"/>
<circle cx="325.1" cy="417.2" r="1.15" fill="#9a9a9a"/>
<circle cx="325.1" cy="425.2" r="1.15" fill="#9a9a9a"/>
<circle cx="325.1" cy="433.4" r="1.15" fill="#9a9a9a"/>
<circle cx="323.3" cy="437" r="1.15" fill="#9a9a9a"/>
<circle cx="327.3" cy="436.4" r="1.15" fill="#9a9a9a"/>
<circle cx="326.4" cy="441.4" r="1.15" fill="#9a9a9a"/>
<circle cx="317.6" cy="447.9" r="1.15" fill="#9a9a9a"/>
<circle cx="321.1" cy="448.6" r="1.15" fill="#9a9a9a"/>
<circle cx="330" cy="448.6" r="1.15" fill="#9a9a9a"/>
<circle cx="333.1" cy="448.3" r="1.15" fill="#9a9a9a"/>
<circle cx="318" cy="454.8" r="1.15" fill="#9a9a9a"/>
<circle cx="332.7" cy="455.4" r="1.15" fill="#9a9a9a"/>
<circle cx="320.5" cy="457.2" r="1.15" fill="#9a9a9a"/>
<circle cx="324.5" cy="457.2" r="1.15" fill="#9a9a9a"/>
<circle cx="328.5" cy="457.2" r="1.15" fill="#9a9a9a"/>
<circle cx="332" cy="457.2" r="1.15" fill="#9a9a9a"/>
<line x1="243.7" y1="457.2" x2="243.7" y2="460.4" stroke="#000" stroke-width="1.3"/>
<text x="243.7" y="467.4" font-family="Liberation Sans, sans-serif" font-weight="bold" font-size="6.8" text-anchor="middle">0 to</text>
<text x="243.7" y="475" font-family="Liberation Sans, sans-serif" font-weight="bold" font-size="6.8" text-anchor="middle">&lt;2.5</text>
<line x1="234.5" y1="431.6" x2="252.89999999999998" y2="431.6" stroke="#000" stroke-width="1.4"/>
<line x1="243.7" y1="426.4" x2="243.7" y2="437.2" stroke="#000" stroke-width="1.3"/>
<line x1="238.7" y1="426.4" x2="248.7" y2="426.4" stroke="#000" stroke-width="1.3"/>
<line x1="238.7" y1="437.2" x2="248.7" y2="437.2" stroke="#000" stroke-width="1.3"/>
<line x1="270.4" y1="457.2" x2="270.4" y2="460.4" stroke="#000" stroke-width="1.3"/>
<text x="270.4" y="467.4" font-family="Liberation Sans, sans-serif" font-weight="bold" font-size="6.8" text-anchor="middle">2.5 to</text>
<text x="270.4" y="475" font-family="Liberation Sans, sans-serif" font-weight="bold" font-size="6.8" text-anchor="middle">&lt;5</text>
<line x1="261.2" y1="434" x2="279.59999999999997" y2="434" stroke="#000" stroke-width="1.4"/>
<line x1="270.4" y1="427.4" x2="270.4" y2="440.5" stroke="#000" stroke-width="1.3"/>
<line x1="265.4" y1="427.4" x2="275.4" y2="427.4" stroke="#000" stroke-width="1.3"/>
<line x1="265.4" y1="440.5" x2="275.4" y2="440.5" stroke="#000" stroke-width="1.3"/>
<line x1="298.1" y1="457.2" x2="298.1" y2="460.4" stroke="#000" stroke-width="1.3"/>
<text x="298.1" y="467.4" font-family="Liberation Sans, sans-serif" font-weight="bold" font-size="6.8" text-anchor="middle">14 to</text>
<text x="298.1" y="475" font-family="Liberation Sans, sans-serif" font-weight="bold" font-size="6.8" text-anchor="middle">&lt;22</text>
<line x1="288.90000000000003" y1="441.3" x2="307.3" y2="441.3" stroke="#000" stroke-width="1.4"/>
<line x1="298.1" y1="434.7" x2="298.1" y2="448.2" stroke="#000" stroke-width="1.3"/>
<line x1="293.1" y1="434.7" x2="303.1" y2="434.7" stroke="#000" stroke-width="1.3"/>
<line x1="293.1" y1="448.2" x2="303.1" y2="448.2" stroke="#000" stroke-width="1.3"/>
<line x1="325.1" y1="457.2" x2="325.1" y2="460.4" stroke="#000" stroke-width="1.3"/>
<text x="325.1" y="467.4" font-family="Liberation Sans, sans-serif" font-weight="bold" font-size="6.8" text-anchor="middle">22 to</text>
<text x="325.1" y="475" font-family="Liberation Sans, sans-serif" font-weight="bold" font-size="6.8" text-anchor="middle">≤61</text>
<line x1="315.90000000000003" y1="445" x2="334.3" y2="445" stroke="#000" stroke-width="1.4"/>
<line x1="325.1" y1="439.4" x2="325.1" y2="450.4" stroke="#000" stroke-width="1.3"/>
<line x1="320.1" y1="439.4" x2="330.1" y2="439.4" stroke="#000" stroke-width="1.3"/>
<line x1="320.1" y1="450.4" x2="330.1" y2="450.4" stroke="#000" stroke-width="1.3"/>
<text x="284.5" y="485.4" font-family="Liberation Sans, sans-serif" font-weight="bold" font-size="6.4" text-anchor="middle">Age (years)</text>
<line x1="240" y1="380.7" x2="327" y2="380.7" stroke="#000" stroke-width="1.5"/>
<line x1="240" y1="377.59999999999997" x2="240" y2="383.8" stroke="#000" stroke-width="1.3"/>
<line x1="327" y1="377.59999999999997" x2="327" y2="383.8" stroke="#000" stroke-width="1.3"/>
<text x="284.9" y="378.7" font-family="Liberation Sans, sans-serif" font-size="6.5" text-anchor="middle" fill="#000" stroke="#000" stroke-width="0.1">&lt;0.001</text>
<line x1="240" y1="393.2" x2="296.7" y2="393.2" stroke="#000" stroke-width="1.5"/>
<line x1="240" y1="390.09999999999997" x2="240" y2="396.3" stroke="#000" stroke-width="1.3"/>
<line x1="296.7" y1="390.09999999999997" x2="296.7" y2="396.3" stroke="#000" stroke-width="1.3"/>
<text x="269.5" y="391.2" font-family="Liberation Sans, sans-serif" font-size="6.5" text-anchor="middle" fill="#000" stroke="#000" stroke-width="0.1">0.008</text>
<line x1="270.6" y1="405.9" x2="328" y2="405.9" stroke="#000" stroke-width="1.5"/>
<line x1="270.6" y1="402.79999999999995" x2="270.6" y2="409.0" stroke="#000" stroke-width="1.3"/>
<line x1="328" y1="402.79999999999995" x2="328" y2="409.0" stroke="#000" stroke-width="1.3"/>
<text x="298.1" y="403.9" font-family="Liberation Sans, sans-serif" font-size="6.5" text-anchor="middle" fill="#000" stroke="#000" stroke-width="0.1">0.011</text>
<line x1="390.8" y1="378.5" x2="390.8" y2="458.0" stroke="#000" stroke-width="1.6"/>
<line x1="390.0" y1="457.2" x2="508.6" y2="457.2" stroke="#000" stroke-width="1.6"/>
<line x1="387.40000000000003" y1="457.20" x2="390.8" y2="457.20" stroke="#000" stroke-width="1.3"/>
<text x="387.6" y="459.80" font-family="Liberation Sans, sans-serif" font-weight="bold" font-size="6.4" text-anchor="end" stroke="#000" stroke-width="0.15">0</text>
<line x1="387.40000000000003" y1="431.13" x2="390.8" y2="431.13" stroke="#000" stroke-width="1.3"/>
<text x="387.6" y="433.73" font-family="Liberation Sans, sans-serif" font-weight="bold" font-size="6.4" text-anchor="end" stroke="#000" stroke-width="0.15">5</text>
<line x1="387.40000000000003" y1="405.07" x2="390.8" y2="405.07" stroke="#000" stroke-width="1.3"/>
<text x="387.6" y="407.67" font-family="Liberation Sans, sans-serif" font-weight="bold" font-size="6.4" text-anchor="end" stroke="#000" stroke-width="0.15">10</text>
<line x1="387.40000000000003" y1="379.00" x2="390.8" y2="379.00" stroke="#000" stroke-width="1.3"/>
<text x="387.6" y="381.60" font-family="Liberation Sans, sans-serif" font-weight="bold" font-size="6.4" text-anchor="end" stroke="#000" stroke-width="0.15">15</text>
<text transform="translate(377.0,417.4) rotate(-90)" font-family="Liberation Sans, sans-serif" font-weight="bold" font-size="6.3" text-anchor="middle" stroke="#000" stroke-width="0.22">Relative transcript levels</text>
<text x="449.40000000000003" y="366.4" font-family="Liberation Sans, sans-serif" font-weight="bold" font-style="italic" font-size="6.5" text-anchor="middle">pfrh5</text>
<circle cx="408.8" cy="395.2" r="1.15" fill="#9a9a9a"/>
<circle cx="407" cy="401.4" r="1.15" fill="#9a9a9a"/>
<circle cx="410.7" cy="404.6" r="1.15" fill="#9a9a9a"/>
<circle cx="407" cy="411.9" r="1.15" fill="#9a9a9a"/>
<circle cx="410.7" cy="411.2" r="1.15" fill="#9a9a9a"/>
<circle cx="407" cy="418.8" r="1.15" fill="#9a9a9a"/>
<circle cx="412.3" cy="421" r="1.15" fill="#9a9a9a"/>
<circle cx="405.2" cy="433" r="1.15" fill="#9a9a9a"/>
<circle cx="412.3" cy="432.6" r="1.15" fill="#9a9a9a"/>
<circle cx="405.2" cy="436.6" r="1.15" fill="#9a9a9a"/>
<circle cx="401.2" cy="447.7" r="1.15" fill="#9a9a9a"/>
<circle cx="404.3" cy="448.6" r="1.15" fill="#9a9a9a"/>
<circle cx="407.2" cy="450.1" r="1.15" fill="#9a9a9a"/>
<circle cx="410.4" cy="450.1" r="1.15" fill="#9a9a9a"/>
<circle cx="413.7" cy="449.2" r="1.15" fill="#9a9a9a"/>
<circle cx="416.6" cy="448.1" r="1.15" fill="#9a9a9a"/>
<circle cx="410.4" cy="455.7" r="1.15" fill="#9a9a9a"/>
<circle cx="435.9" cy="403.9" r="1.15" fill="#9a9a9a"/>
<circle cx="435.9" cy="422.6" r="1.15" fill="#9a9a9a"/>
<circle cx="434.1" cy="426.8" r="1.15" fill="#9a9a9a"/>
<circle cx="437.7" cy="425.9" r="1.15" fill="#9a9a9a"/>
<circle cx="430.6" cy="429.4" r="1.15" fill="#9a9a9a"/>
<circle cx="434.1" cy="430.8" r="1.15" fill="#9a9a9a"/>
<circle cx="439.4" cy="430.8" r="1.15" fill="#9a9a9a"/>
<circle cx="443" cy="429.9" r="1.15" fill="#9a9a9a"/>
<circle cx="433.7" cy="435.5" r="1.15" fill="#9a9a9a"/>
<circle cx="439.4" cy="435.5" r="1.15" fill="#9a9a9a"/>
<circle cx="431" cy="440.8" r="1.15" fill="#9a9a9a"/>
<circle cx="441.2" cy="440.8" r="1.15" fill="#9a9a9a"/>
<circle cx="428.3" cy="444.6" r="1.15" fill="#9a9a9a"/>
<circle cx="431.4" cy="445.6" r="1.15" fill="#9a9a9a"/>
<circle cx="434.4" cy="445.9" r="1.15" fill="#9a9a9a"/>
<circle cx="437.2" cy="446.3" r="1.15" fill="#9a9a9a"/>
<circle cx="440.3" cy="445.9" r="1.15" fill="#9a9a9a"/>
<circle cx="443.9" cy="444.4" r="1.15" fill="#9a9a9a"/>
<circle cx="430.6" cy="451.5" r="1.15" fill="#9a9a9a"/>
<circle cx="434.1" cy="453.4" r="1.15" fill="#9a9a9a"/>
<circle cx="437.7" cy="452.6" r="1.15" fill="#9a9a9a"/>
<circle cx="441.2" cy="450.8" r="1.15" fill="#9a9a9a"/>
<circle cx="463" cy="403" r="1.15" fill="#9a9a9a"/>
<circle cx="463" cy="409" r="1.15" fill="#9a9a9a"/>
<circle cx="459.4" cy="426.3" r="1.15" fill="#9a9a9a"/>
<circle cx="463" cy="428.1" r="1.15" fill="#9a9a9a"/>
<circle cx="466.6" cy="427" r="1.15" fill="#9a9a9a"/>
<circle cx="463" cy="432.1" r="1.15" fill="#9a9a9a"/>
<circle cx="461.2" cy="440.3" r="1.15" fill="#9a9a9a"/>
<circle cx="466.1" cy="441" r="1.15" fill="#9a9a9a"/>
<circle cx="459.4" cy="443.7" r="1.15" fill="#9a9a9a"/>
<circle cx="464.8" cy="445.9" r="1.15" fill="#9a9a9a"/>
<circle cx="459.4" cy="451.7" r="1.15" fill="#9a9a9a"/>
<circle cx="463" cy="452.6" r="1.15" fill="#9a9a9a"/>
<circle cx="466.7" cy="451.2" r="1.15" fill="#9a9a9a"/>
<circle cx="455.5" cy="457.2" r="1.15" fill="#9a9a9a"/>
<circle cx="459" cy="457.2" r="1.15" fill="#9a9a9a"/>
<circle cx="462.5" cy="457.2" r="1.15" fill="#9a9a9a"/>
<circle cx="466" cy="457.2" r="1.15" fill="#9a9a9a"/>
<circle cx="469.5" cy="457.2" r="1.15" fill="#9a9a9a"/>
<circle cx="490" cy="385.5" r="1.15" fill="#9a9a9a"/>
<circle cx="488.1" cy="399.4" r="1.15" fill="#9a9a9a"/>
<circle cx="491.9" cy="401" r="1.15" fill="#9a9a9a"/>
<circle cx="489.8" cy="409.4" r="1.15" fill="#9a9a9a"/>
<circle cx="488.1" cy="426.1" r="1.15" fill="#9a9a9a"/>
<circle cx="491.9" cy="426.6" r="1.15" fill="#9a9a9a"/>
<circle cx="487.9" cy="441.9" r="1.15" fill="#9a9a9a"/>
<circle cx="491.9" cy="443.7" r="1.15" fill="#9a9a9a"/>
<circle cx="483" cy="446.8" r="1.15" fill="#9a9a9a"/>
<circle cx="495.4" cy="445.9" r="1.15" fill="#9a9a9a"/>
<circle cx="484.8" cy="450.3" r="1.15" fill="#9a9a9a"/>
<circle cx="488.1" cy="451.8" r="1.15" fill="#9a9a9a"/>
<circle cx="491.6" cy="452.4" r="1.15" fill="#9a9a9a"/>
<circle cx="495.4" cy="450.8" r="1.15" fill="#9a9a9a"/>
<circle cx="483" cy="454.8" r="1.15" fill="#9a9a9a"/>
<circle cx="486" cy="457.2" r="1.15" fill="#9a9a9a"/>
<circle cx="490" cy="457.2" r="1.15" fill="#9a9a9a"/>
<circle cx="494" cy="457.2" r="1.15" fill="#9a9a9a"/>
<line x1="408.6" y1="457.2" x2="408.6" y2="460.4" stroke="#000" stroke-width="1.3"/>
<text x="408.6" y="467.4" font-family="Liberation Sans, sans-serif" font-weight="bold" font-size="6.8" text-anchor="middle">0 to</text>
<text x="408.6" y="475" font-family="Liberation Sans, sans-serif" font-weight="bold" font-size="6.8" text-anchor="middle">&lt;2.5</text>
<line x1="399.40000000000003" y1="432" x2="417.8" y2="432" stroke="#000" stroke-width="1.4"/>
<line x1="408.6" y1="423.9" x2="408.6" y2="439.9" stroke="#000" stroke-width="1.3"/>
<line x1="403.6" y1="423.9" x2="413.6" y2="423.9" stroke="#000" stroke-width="1.3"/>
<line x1="403.6" y1="439.9" x2="413.6" y2="439.9" stroke="#000" stroke-width="1.3"/>
<line x1="435.7" y1="457.2" x2="435.7" y2="460.4" stroke="#000" stroke-width="1.3"/>
<text x="435.7" y="467.4" font-family="Liberation Sans, sans-serif" font-weight="bold" font-size="6.8" text-anchor="middle">2.5 to</text>
<text x="435.7" y="475" font-family="Liberation Sans, sans-serif" font-weight="bold" font-size="6.8" text-anchor="middle">&lt;5</text>
<line x1="426.5" y1="437.8" x2="444.9" y2="437.8" stroke="#000" stroke-width="1.4"/>
<line x1="435.7" y1="433" x2="435.7" y2="442.1" stroke="#000" stroke-width="1.3"/>
<line x1="430.7" y1="433" x2="440.7" y2="433" stroke="#000" stroke-width="1.3"/>
<line x1="430.7" y1="442.1" x2="440.7" y2="442.1" stroke="#000" stroke-width="1.3"/>
<line x1="462.9" y1="457.2" x2="462.9" y2="460.4" stroke="#000" stroke-width="1.3"/>
<text x="462.9" y="467.4" font-family="Liberation Sans, sans-serif" font-weight="bold" font-size="6.8" text-anchor="middle">14 to</text>
<text x="462.9" y="475" font-family="Liberation Sans, sans-serif" font-weight="bold" font-size="6.8" text-anchor="middle">&lt;22</text>
<line x1="453.7" y1="442.6" x2="472.09999999999997" y2="442.6" stroke="#000" stroke-width="1.4"/>
<line x1="462.9" y1="435.9" x2="462.9" y2="449.2" stroke="#000" stroke-width="1.3"/>
<line x1="457.9" y1="435.9" x2="467.9" y2="435.9" stroke="#000" stroke-width="1.3"/>
<line x1="457.9" y1="449.2" x2="467.9" y2="449.2" stroke="#000" stroke-width="1.3"/>
<line x1="489.9" y1="457.2" x2="489.9" y2="460.4" stroke="#000" stroke-width="1.3"/>
<text x="489.9" y="467.4" font-family="Liberation Sans, sans-serif" font-weight="bold" font-size="6.8" text-anchor="middle">22 to</text>
<text x="489.9" y="475" font-family="Liberation Sans, sans-serif" font-weight="bold" font-size="6.8" text-anchor="middle">≤61</text>
<line x1="480.7" y1="438.4" x2="499.09999999999997" y2="438.4" stroke="#000" stroke-width="1.4"/>
<line x1="489.9" y1="429.9" x2="489.9" y2="447.1" stroke="#000" stroke-width="1.3"/>
<line x1="484.9" y1="429.9" x2="494.9" y2="429.9" stroke="#000" stroke-width="1.3"/>
<line x1="484.9" y1="447.1" x2="494.9" y2="447.1" stroke="#000" stroke-width="1.3"/>
<text x="449.40000000000003" y="485.4" font-family="Liberation Sans, sans-serif" font-weight="bold" font-size="6.4" text-anchor="middle">Age (years)</text>
<line x1="407.3" y1="382.8" x2="463.3" y2="382.8" stroke="#000" stroke-width="1.5"/>
<line x1="407.3" y1="379.7" x2="407.3" y2="385.90000000000003" stroke="#000" stroke-width="1.3"/>
<line x1="463.3" y1="379.7" x2="463.3" y2="385.90000000000003" stroke="#000" stroke-width="1.3"/>
<text x="433.3" y="380.8" font-family="Liberation Sans, sans-serif" font-size="6.5" text-anchor="middle" fill="#000" stroke="#000" stroke-width="0.1">0.023</text>
<line x1="555.2" y1="378.5" x2="555.2" y2="458.0" stroke="#000" stroke-width="1.6"/>
<line x1="554.4000000000001" y1="457.2" x2="673.0" y2="457.2" stroke="#000" stroke-width="1.6"/>
<line x1="551.8000000000001" y1="457.20" x2="555.2" y2="457.20" stroke="#000" stroke-width="1.3"/>
<text x="552.0" y="459.80" font-family="Liberation Sans, sans-serif" font-weight="bold" font-size="6.4" text-anchor="end" stroke="#000" stroke-width="0.15">0</text>
<line x1="551.8000000000001" y1="437.65" x2="555.2" y2="437.65" stroke="#000" stroke-width="1.3"/>
<text x="552.0" y="440.25" font-family="Liberation Sans, sans-serif" font-weight="bold" font-size="6.4" text-anchor="end" stroke="#000" stroke-width="0.15">20</text>
<line x1="551.8000000000001" y1="418.10" x2="555.2" y2="418.10" stroke="#000" stroke-width="1.3"/>
<text x="552.0" y="420.70" font-family="Liberation Sans, sans-serif" font-weight="bold" font-size="6.4" text-anchor="end" stroke="#000" stroke-width="0.15">40</text>
<line x1="551.8000000000001" y1="398.55" x2="555.2" y2="398.55" stroke="#000" stroke-width="1.3"/>
<text x="552.0" y="401.15" font-family="Liberation Sans, sans-serif" font-weight="bold" font-size="6.4" text-anchor="end" stroke="#000" stroke-width="0.15">60</text>
<line x1="551.8000000000001" y1="379.00" x2="555.2" y2="379.00" stroke="#000" stroke-width="1.3"/>
<text x="552.0" y="381.60" font-family="Liberation Sans, sans-serif" font-weight="bold" font-size="6.4" text-anchor="end" stroke="#000" stroke-width="0.15">80</text>
<text transform="translate(541.4000000000001,417.4) rotate(-90)" font-family="Liberation Sans, sans-serif" font-weight="bold" font-size="6.3" text-anchor="middle" stroke="#000" stroke-width="0.22">Relative transcript levels</text>
<text x="613.8000000000001" y="366.4" font-family="Liberation Sans, sans-serif" font-weight="bold" font-style="italic" font-size="6.5" text-anchor="middle">p41</text>
<circle cx="573.6" cy="408.2" r="1.15" fill="#9a9a9a"/>
<circle cx="570" cy="429.1" r="1.15" fill="#9a9a9a"/>
<circle cx="573.6" cy="430.4" r="1.15" fill="#9a9a9a"/>
<circle cx="577.2" cy="428.7" r="1.15" fill="#9a9a9a"/>
<circle cx="571.8" cy="435.5" r="1.15" fill="#9a9a9a"/>
<circle cx="575.1" cy="434.9" r="1.15" fill="#9a9a9a"/>
<circle cx="570" cy="440.7" r="1.15" fill="#9a9a9a"/>
<circle cx="577.2" cy="440.7" r="1.15" fill="#9a9a9a"/>
<circle cx="566.7" cy="444" r="1.15" fill="#9a9a9a"/>
<circle cx="570" cy="445.8" r="1.15" fill="#9a9a9a"/>
<circle cx="577.2" cy="445.8" r="1.15" fill="#9a9a9a"/>
<circle cx="580.9" cy="444.7" r="1.15" fill="#9a9a9a"/>
<circle cx="571.8" cy="450.4" r="1.15" fill="#9a9a9a"/>
<circle cx="575.1" cy="450.6" r="1.15" fill="#9a9a9a"/>
<circle cx="566.7" cy="453.8" r="1.15" fill="#9a9a9a"/>
<circle cx="569" cy="457.2" r="1.15" fill="#9a9a9a"/>
<circle cx="573" cy="457.2" r="1.15" fill="#9a9a9a"/>
<circle cx="577" cy="457.2" r="1.15" fill="#9a9a9a"/>
<circle cx="600.4" cy="406" r="1.15" fill="#9a9a9a"/>
<circle cx="600.4" cy="414.4" r="1.15" fill="#9a9a9a"/>
<circle cx="597.1" cy="420" r="1.15" fill="#9a9a9a"/>
<circle cx="604" cy="420" r="1.15" fill="#9a9a9a"/>
<circle cx="600.4" cy="422.4" r="1.15" fill="#9a9a9a"/>
<circle cx="600.4" cy="428.7" r="1.15" fill="#9a9a9a"/>
<circle cx="597.1" cy="430.7" r="1.15" fill="#9a9a9a"/>
<circle cx="604" cy="430.9" r="1.15" fill="#9a9a9a"/>
<circle cx="602.2" cy="436.9" r="1.15" fill="#9a9a9a"/>
<circle cx="593.3" cy="443.3" r="1.15" fill="#9a9a9a"/>
<circle cx="607.6" cy="443.3" r="1.15" fill="#9a9a9a"/>
<circle cx="602.2" cy="446.4" r="1.15" fill="#9a9a9a"/>
<circle cx="597.1" cy="448.7" r="1.15" fill="#9a9a9a"/>
<circle cx="595.1" cy="452.2" r="1.15" fill="#9a9a9a"/>
<circle cx="598.7" cy="451.8" r="1.15" fill="#9a9a9a"/>
<circle cx="602.2" cy="450.9" r="1.15" fill="#9a9a9a"/>
<circle cx="605.8" cy="452.7" r="1.15" fill="#9a9a9a"/>
<circle cx="597.1" cy="454" r="1.15" fill="#9a9a9a"/>
<circle cx="600.4" cy="453.6" r="1.15" fill="#9a9a9a"/>
<circle cx="604" cy="455.3" r="1.15" fill="#9a9a9a"/>
<circle cx="627.8" cy="393.4" r="1.15" fill="#9a9a9a"/>
<circle cx="629.4" cy="405.9" r="1.15" fill="#9a9a9a"/>
<circle cx="625.8" cy="407.7" r="1.15" fill="#9a9a9a"/>
<circle cx="627.8" cy="417" r="1.15" fill="#9a9a9a"/>
<circle cx="627.8" cy="423.3" r="1.15" fill="#9a9a9a"/>
<circle cx="631.2" cy="426" r="1.15" fill="#9a9a9a"/>
<circle cx="624.2" cy="427.6" r="1.15" fill="#9a9a9a"/>
<circle cx="624.2" cy="440.2" r="1.15" fill="#9a9a9a"/>
<circle cx="631.2" cy="440.2" r="1.15" fill="#9a9a9a"/>
<circle cx="626" cy="446.6" r="1.15" fill="#9a9a9a"/>
<circle cx="629.4" cy="446.6" r="1.15" fill="#9a9a9a"/>
<circle cx="631.2" cy="449.3" r="1.15" fill="#9a9a9a"/>
<circle cx="624.2" cy="452" r="1.15" fill="#9a9a9a"/>
<circle cx="627.8" cy="452.8" r="1.15" fill="#9a9a9a"/>
<circle cx="620.7" cy="455.2" r="1.15" fill="#9a9a9a"/>
<circle cx="623.3" cy="457.2" r="1.15" fill="#9a9a9a"/>
<circle cx="627" cy="457.2" r="1.15" fill="#9a9a9a"/>
<circle cx="630.5" cy="457.2" r="1.15" fill="#9a9a9a"/>
<circle cx="634" cy="457.2" r="1.15" fill="#9a9a9a"/>
<circle cx="652.8" cy="397.6" r="1.15" fill="#9a9a9a"/>
<circle cx="656.4" cy="396.4" r="1.15" fill="#9a9a9a"/>
<circle cx="652.8" cy="403.7" r="1.15" fill="#9a9a9a"/>
<circle cx="651.1" cy="406.3" r="1.15" fill="#9a9a9a"/>
<circle cx="656.4" cy="405.9" r="1.15" fill="#9a9a9a"/>
<circle cx="654.6" cy="409.4" r="1.15" fill="#9a9a9a"/>
<circle cx="658" cy="408.8" r="1.15" fill="#9a9a9a"/>
<circle cx="654.6" cy="416.8" r="1.15" fill="#9a9a9a"/>
<circle cx="653.1" cy="427.6" r="1.15" fill="#9a9a9a"/>
<circle cx="656.7" cy="427.6" r="1.15" fill="#9a9a9a"/>
<circle cx="653.1" cy="437.1" r="1.15" fill="#9a9a9a"/>
<circle cx="651.1" cy="441.8" r="1.15" fill="#9a9a9a"/>
<circle cx="658" cy="442.7" r="1.15" fill="#9a9a9a"/>
<circle cx="654.6" cy="445.6" r="1.15" fill="#9a9a9a"/>
<circle cx="652.8" cy="450.4" r="1.15" fill="#9a9a9a"/>
<circle cx="656.4" cy="452.7" r="1.15" fill="#9a9a9a"/>
<circle cx="660" cy="454.6" r="1.15" fill="#9a9a9a"/>
<circle cx="649" cy="457.2" r="1.15" fill="#9a9a9a"/>
<circle cx="652.8" cy="457.2" r="1.15" fill="#9a9a9a"/>
<circle cx="656.4" cy="457.2" r="1.15" fill="#9a9a9a"/>
<line x1="573.7" y1="457.2" x2="573.7" y2="460.4" stroke="#000" stroke-width="1.3"/>
<text x="573.7" y="467.4" font-family="Liberation Sans, sans-serif" font-weight="bold" font-size="6.8" text-anchor="middle">0 to</text>
<text x="573.7" y="475" font-family="Liberation Sans, sans-serif" font-weight="bold" font-size="6.8" text-anchor="middle">&lt;2.5</text>
<line x1="564.5" y1="443.4" x2="582.9000000000001" y2="443.4" stroke="#000" stroke-width="1.4"/>
<line x1="573.7" y1="438.4" x2="573.7" y2="448.2" stroke="#000" stroke-width="1.3"/>
<line x1="568.7" y1="438.4" x2="578.7" y2="438.4" stroke="#000" stroke-width="1.3"/>
<line x1="568.7" y1="448.2" x2="578.7" y2="448.2" stroke="#000" stroke-width="1.3"/>
<line x1="600.4" y1="457.2" x2="600.4" y2="460.4" stroke="#000" stroke-width="1.3"/>
<text x="600.4" y="467.4" font-family="Liberation Sans, sans-serif" font-weight="bold" font-size="6.8" text-anchor="middle">2.5 to</text>
<text x="600.4" y="475" font-family="Liberation Sans, sans-serif" font-weight="bold" font-size="6.8" text-anchor="middle">&lt;5</text>
<line x1="591.1999999999999" y1="439.2" x2="609.6" y2="439.2" stroke="#000" stroke-width="1.4"/>
<line x1="600.4" y1="433.6" x2="600.4" y2="444.6" stroke="#000" stroke-width="1.3"/>
<line x1="595.4" y1="433.6" x2="605.4" y2="433.6" stroke="#000" stroke-width="1.3"/>
<line x1="595.4" y1="444.6" x2="605.4" y2="444.6" stroke="#000" stroke-width="1.3"/>
<line x1="627.4" y1="457.2" x2="627.4" y2="460.4" stroke="#000" stroke-width="1.3"/>
<text x="627.4" y="467.4" font-family="Liberation Sans, sans-serif" font-weight="bold" font-size="6.8" text-anchor="middle">14 to</text>
<text x="627.4" y="475" font-family="Liberation Sans, sans-serif" font-weight="bold" font-size="6.8" text-anchor="middle">&lt;22</text>
<line x1="618.1999999999999" y1="437.2" x2="636.6" y2="437.2" stroke="#000" stroke-width="1.4"/>
<line x1="627.4" y1="429.5" x2="627.4" y2="445" stroke="#000" stroke-width="1.3"/>
<line x1="622.4" y1="429.5" x2="632.4" y2="429.5" stroke="#000" stroke-width="1.3"/>
<line x1="622.4" y1="445" x2="632.4" y2="445" stroke="#000" stroke-width="1.3"/>
<line x1="654.6" y1="457.2" x2="654.6" y2="460.4" stroke="#000" stroke-width="1.3"/>
<text x="654.6" y="467.4" font-family="Liberation Sans, sans-serif" font-weight="bold" font-size="6.8" text-anchor="middle">22 to</text>
<text x="654.6" y="475" font-family="Liberation Sans, sans-serif" font-weight="bold" font-size="6.8" text-anchor="middle">≤61</text>
<line x1="645.4" y1="429.5" x2="663.8000000000001" y2="429.5" stroke="#000" stroke-width="1.4"/>
<line x1="654.6" y1="420.8" x2="654.6" y2="438.2" stroke="#000" stroke-width="1.3"/>
<line x1="649.6" y1="420.8" x2="659.6" y2="420.8" stroke="#000" stroke-width="1.3"/>
<line x1="649.6" y1="438.2" x2="659.6" y2="438.2" stroke="#000" stroke-width="1.3"/>
<text x="613.8000000000001" y="485.4" font-family="Liberation Sans, sans-serif" font-weight="bold" font-size="6.4" text-anchor="middle">Age (years)</text>
<line x1="571.9" y1="382.8" x2="655.3" y2="382.8" stroke="#000" stroke-width="1.5"/>
<line x1="571.9" y1="379.7" x2="571.9" y2="385.90000000000003" stroke="#000" stroke-width="1.3"/>
<line x1="655.3" y1="379.7" x2="655.3" y2="385.90000000000003" stroke="#000" stroke-width="1.3"/>
<text x="611" y="380.8" font-family="Liberation Sans, sans-serif" font-size="6.5" text-anchor="middle" fill="#000" stroke="#000" stroke-width="0.1">0.017</text>
</svg>
</body></html>
